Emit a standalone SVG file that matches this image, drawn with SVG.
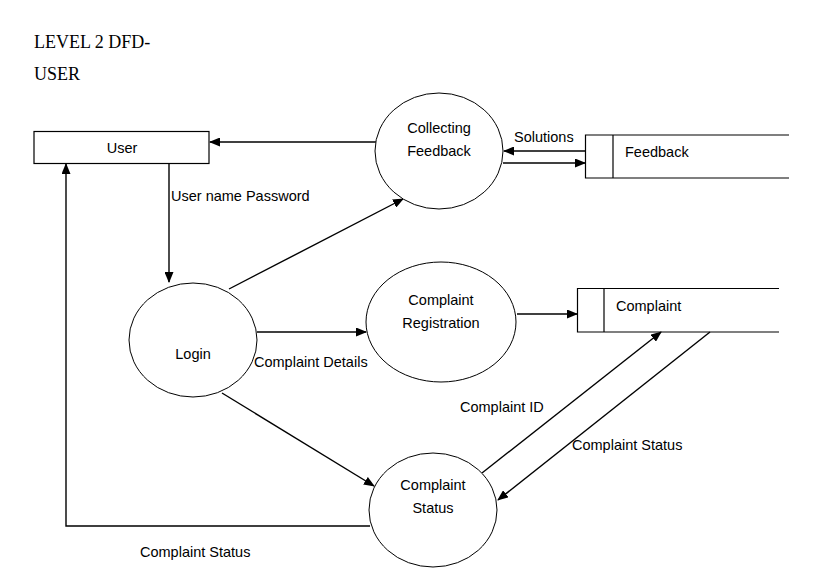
<svg xmlns="http://www.w3.org/2000/svg" width="832" height="576" viewBox="0 0 832 576">
<style>
.t{font-family:"Liberation Sans",Arial,sans-serif;font-size:14.5px;fill:#000}
.c{text-anchor:middle}
.ttl{font-family:"Liberation Serif","Times New Roman",serif;font-size:18px;fill:#000}
.s{fill:#fff;stroke:#000;stroke-width:1.2}
.l{fill:none;stroke:#000;stroke-width:1.4}
.e{fill:#fff;stroke:#000;stroke-width:1}
</style>
<defs>
<marker id="a" markerWidth="11" markerHeight="9" refX="10" refY="4.5" orient="auto" markerUnits="userSpaceOnUse">
<path d="M0,0 L11,4.5 L0,9 Z" fill="#000"/>
</marker>
</defs>
<rect width="832" height="576" fill="#fff"/>
<text class="ttl" x="34" y="48">LEVEL 2 DFD-</text>
<text class="ttl" x="34" y="80">USER</text>

<g id="connectors">
<line class="l" x1="376" y1="142" x2="210" y2="142" marker-end="url(#a)"/>
<line class="l" x1="169" y1="164" x2="169" y2="282" marker-end="url(#a)"/>
<polyline class="l" points="370,526 66,526 66,164" marker-end="url(#a)"/>
<line class="l" x1="585" y1="151" x2="504" y2="151" marker-end="url(#a)"/>
<line class="l" x1="503" y1="163" x2="585" y2="163" marker-end="url(#a)"/>
<line class="l" x1="229" y1="289" x2="403" y2="199" marker-end="url(#a)"/>
<line class="l" x1="257" y1="332" x2="366" y2="332" marker-end="url(#a)"/>
<line class="l" x1="517" y1="314" x2="577" y2="314" marker-end="url(#a)"/>
<line class="l" x1="222" y1="393" x2="374" y2="486" marker-end="url(#a)"/>
<line class="l" x1="482" y1="473" x2="661" y2="332" marker-end="url(#a)"/>
<line class="l" x1="710" y1="332" x2="498" y2="500" marker-end="url(#a)"/>
<text class="t" x="171" y="201">User name Password</text>
<text class="t" x="514" y="142">Solutions</text>
<text class="t" x="254" y="367">Complaint Details</text>
<text class="t" x="460" y="412">Complaint ID</text>
<text class="t" x="572" y="450">Complaint Status</text>
<text class="t" x="140" y="557">Complaint Status</text>
</g>

<g id="user">
<rect class="s" x="34" y="131.5" width="175" height="32"/>
<text class="t c" x="122" y="153">User</text>
</g>

<g id="collecting-feedback">
<ellipse class="e" cx="439" cy="151" rx="64" ry="58"/>
<text class="t c" x="439" y="133">Collecting</text>
<text class="t c" x="439" y="156">Feedback</text>
</g>

<g id="feedback-store">
<polyline class="l" points="789,135 585.5,135 585.5,178 789,178" style="stroke-width:1.2"/>
<line class="l" x1="613" y1="135" x2="613" y2="178" style="stroke-width:1.2"/>
<text class="t" x="625" y="157">Feedback</text>
</g>

<g id="login">
<ellipse class="e" cx="193" cy="340" rx="64" ry="57"/>
<text class="t c" x="193" y="359">Login</text>
</g>

<g id="complaint-registration">
<ellipse class="e" cx="441" cy="322" rx="75" ry="60"/>
<text class="t c" x="441" y="305">Complaint</text>
<text class="t c" x="441" y="328">Registration</text>
</g>

<g id="complaint-store">
<polyline class="l" points="779,288.5 577.5,288.5 577.5,332 779,332" style="stroke-width:1.2"/>
<line class="l" x1="604" y1="288.5" x2="604" y2="332" style="stroke-width:1.2"/>
<text class="t" x="616" y="311">Complaint</text>
</g>

<g id="complaint-status">
<ellipse class="e" cx="433" cy="510" rx="64" ry="57"/>
<text class="t c" x="433" y="490">Complaint</text>
<text class="t c" x="433" y="513">Status</text>
</g>
</svg>
